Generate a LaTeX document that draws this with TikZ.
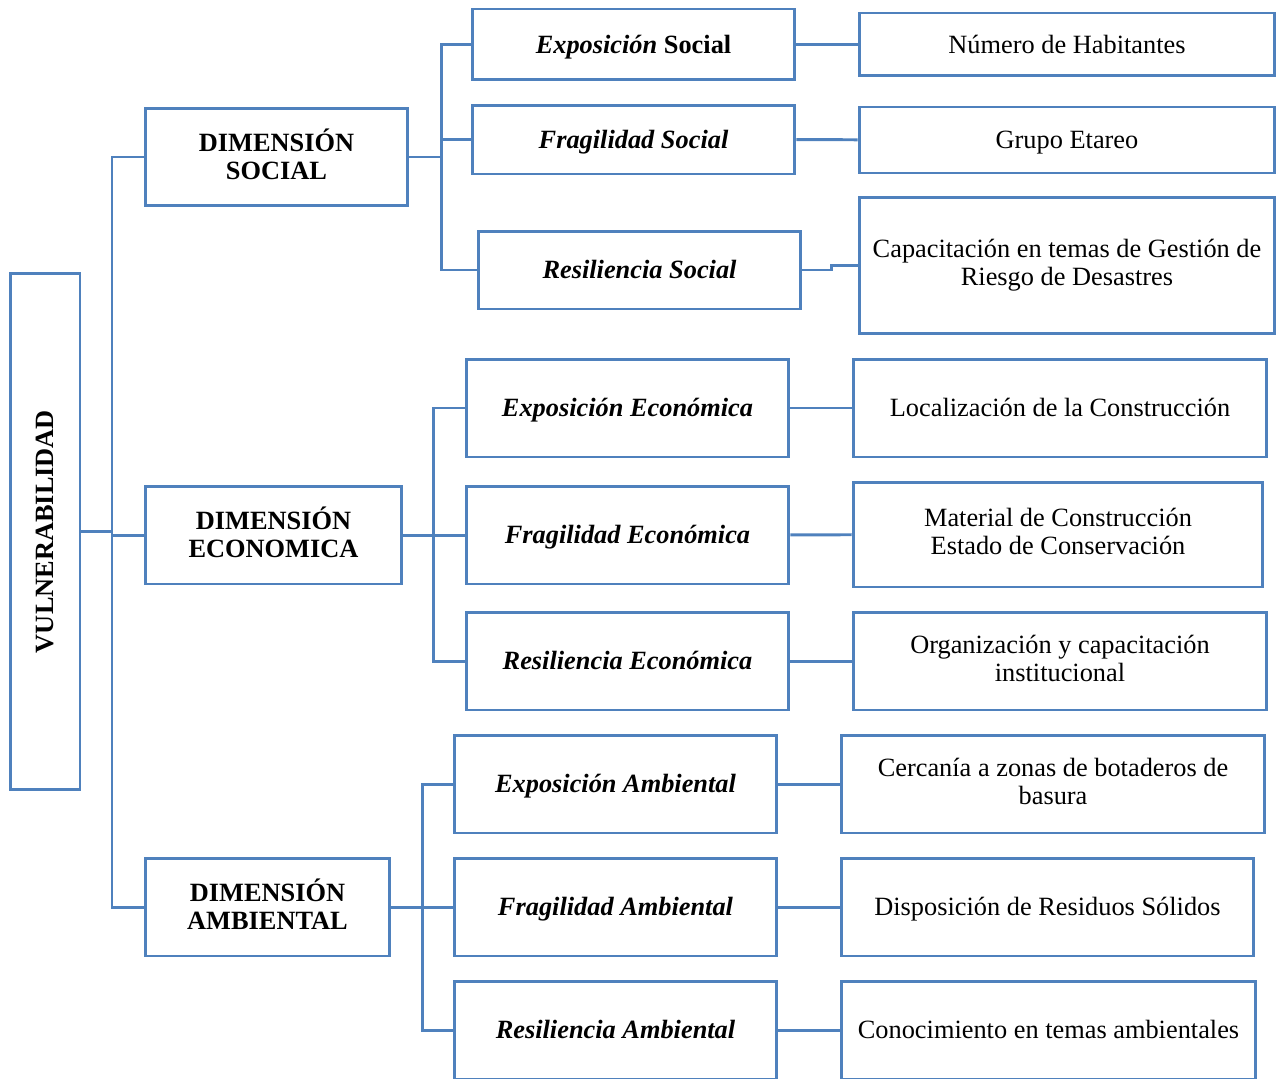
\documentclass[tikz,border=0pt]{standalone}
\usepackage{fontspec}
\setmainfont{Liberation Serif}
\usepackage{tikz}
\usetikzlibrary{calc, positioning}
\definecolor{boxblue}{RGB}{79,129,189}
\newcommand{\vstrut}{\rule[-0.216em]{0pt}{1.107em}}
\newcommand{\boxfont}{\fontsize{15}{16}\selectfont\lineskiplimit=-100pt\relax}

\begin{document}
\begin{tikzpicture}[
  x=0.02cm, y=-0.02cm,
  font=\boxfont,
  box/.style={draw=boxblue, line width=1.7pt, inner sep=0pt, align=center, minimum height=1.96cm,
    execute at begin node=\vstrut, execute at end node=\vstrut},
  dim/.style={box, font=\boxfont\bfseries},
  sub/.style={box, minimum width=6.46cm, font=\boxfont\bfseries\itshape},
  ind/.style={box},
  link/.style={boxblue, line width=1.7pt}
]
\useasboundingbox (0,0) rectangle (1287,1078);
\clip (0,0) rectangle (1287,1078);

\node[dim, rotate=90, minimum width=10.34cm, minimum height=1.4cm] (vul) at (45,531.5) {VULNERABILIDAD};

\node[dim, minimum width=5.26cm] (dsoc) at (276.5,157) {DIMENSIÓN\\SOCIAL};
\node[dim, minimum width=5.14cm] (deco) at (273.5,535) {DIMENSIÓN\\ECONOMICA};
\node[dim, minimum width=4.90cm] (damb) at (267.5,907) {DIMENSIÓN\\AMBIENTAL};

% social
\node[sub, minimum height=1.42cm] (expS) at (633.5,44.5) {Exposición \textup{Social}};
\node[sub, minimum height=1.38cm] (fraS) at (633.5,139.5) {Fragilidad Social};
\node[sub, minimum height=1.56cm] (resS) at (639.5,270) {Resiliencia Social};
\node[ind, minimum width=8.32cm, minimum height=1.26cm] (hab) at (1067,44.5) {Número de Habitantes};
\node[ind, minimum width=8.32cm, minimum height=1.32cm] (eta) at (1067,140) {Grupo Etareo};
\node[ind, minimum width=8.32cm, minimum height=2.74cm] (cap) at (1067,265.5) {Capacitación en temas de Gestión de\\Riesgo de Desastres};

% economica
\node[sub] (expE) at (627.5,408) {Exposición Económica};
\node[sub] (fraE) at (627.5,535) {Fragilidad Económica};
\node[sub] (resE) at (627.5,661) {Resiliencia Económica};
\node[ind, minimum width=8.28cm] (loc) at (1060,408) {Localización de la Construcción};
\node[ind, minimum width=8.20cm, minimum height=2.1cm] (mat) at (1058,534.5) {Material de Construcción\\Estado de Conservación};
\node[ind, minimum width=8.28cm] (org) at (1060,661) {Organización y capacitación\\institucional};

% ambiental
\node[sub] (expA) at (615.5,784) {Exposición Ambiental};
\node[sub] (fraA) at (615.5,907) {Fragilidad Ambiental};
\node[sub] (resA) at (615.5,1030) {Resiliencia Ambiental};
\node[ind, minimum width=8.48cm] (cer) at (1053,784) {Cercanía a zonas de botaderos de\\basura};
\node[ind, minimum width=8.26cm] (dis) at (1047.5,907) {Disposición de Residuos Sólidos};
\node[ind, minimum width=8.30cm] (con) at (1048.5,1030) {Conocimiento en temas ambientales};

\coordinate (trunk) at (112,531.5);
\coordinate (bS) at (441,157);
\coordinate (bE) at (433,535);
\coordinate (bA) at (422,907);

\draw[link] (vul.south) -- (trunk);
\foreach \d in {dsoc, deco, damb} \draw[link] (trunk) |- (\d.west);

\draw[link] (dsoc.east) -- (bS);
\foreach \s in {expS, fraS, resS} \draw[link] (bS) |- (\s.west);
\draw[link] (deco.east) -- (bE);
\foreach \s in {expE, fraE, resE} \draw[link] (bE) |- (\s.west);
\draw[link] (damb.east) -- (bA);
\foreach \s in {expA, fraA, resA} \draw[link] (bA) |- (\s.west);

\foreach \a/\b in {expS/hab, fraS/eta, expE/loc, fraE/mat, resE/org, expA/cer, fraA/dis, resA/con}
  \draw[link] (\a) -- (\b);
\draw[link] (resS.east) -- ++(29,0) |- (cap.west);
\end{tikzpicture}
\end{document}
